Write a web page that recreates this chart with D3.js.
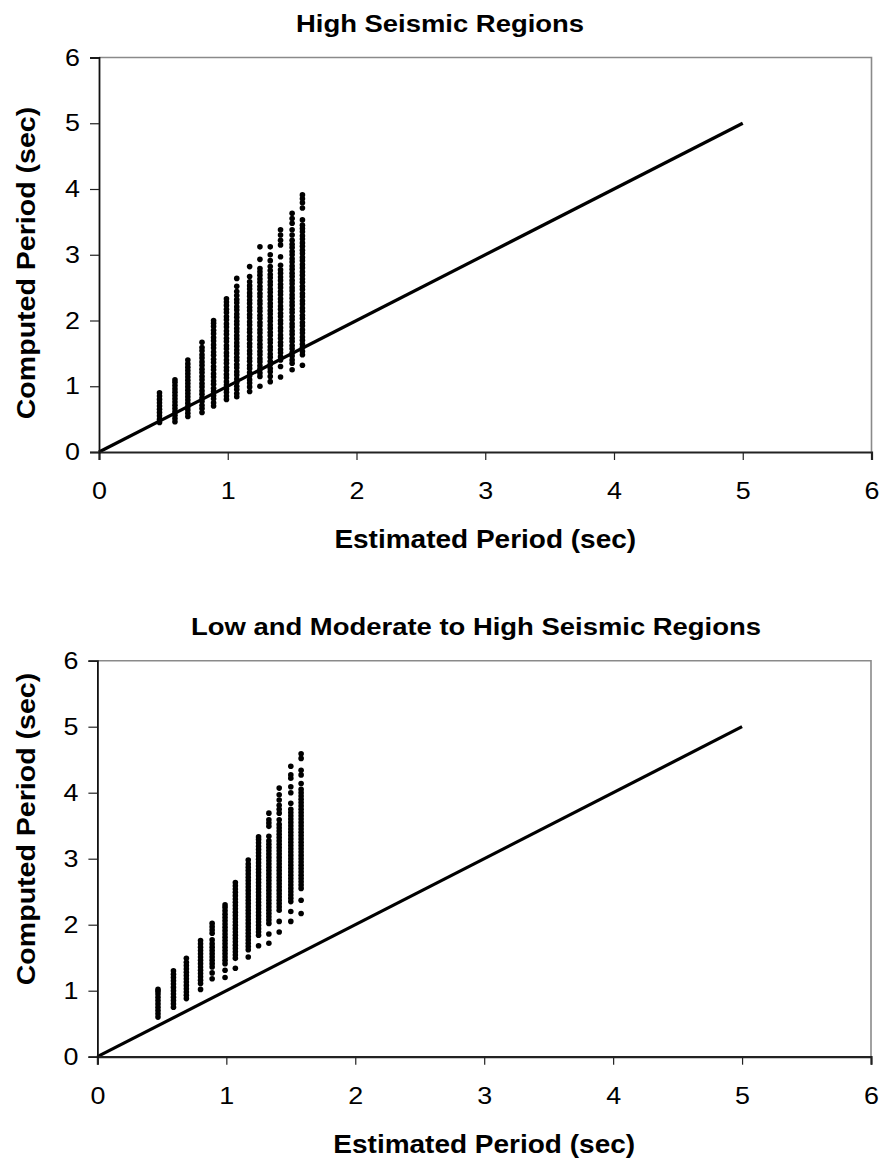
<!DOCTYPE html>
<html>
<head>
<meta charset="utf-8">
<script src="https://cdn.jsdelivr.net/npm/d3@7"></script>
<style>
  html, body { margin: 0; padding: 0; background: #fff; }
  svg { display: block; }
  text { font-family: "Liberation Sans", Arial, sans-serif; fill: #000; }
</style>
</head>
<body>
<svg id="chart" width="883" height="1162"></svg>
<script>
// Estimated period of each building group (x position of each column of points)
const estimatedPeriods = [0.47, 0.59, 0.69, 0.80, 0.89, 0.99, 1.07, 1.17, 1.25, 1.33, 1.41, 1.50, 1.58];

// Computed periods per group, high seismic regions
const computedHigh = [
  [0.45,0.50,0.55,0.60,0.65,0.70,0.75,0.80,0.85,0.90],
  [0.46,0.51,0.56,0.61,0.66,0.71,0.76,0.81,0.86,0.91,0.96,1.01,1.06,1.10],
  [0.54,0.59,0.64,0.69,0.74,0.79,0.84,0.89,0.94,0.99,1.04,1.09,1.14,1.19,1.24,1.29,1.34,1.40],
  [0.60,0.66,0.71,0.77,0.82,0.88,0.93,0.99,1.04,1.10,1.15,1.21,1.26,1.32,1.37,1.43,1.48,1.54,1.59,1.67],
  [0.70,0.75,0.81,0.86,0.92,0.97,1.03,1.08,1.14,1.19,1.25,1.30,1.36,1.41,1.47,1.52,1.58,1.63,1.69,1.74,1.80,1.85,1.91,1.96,2.00],
  [0.80,0.85,0.91,0.96,1.02,1.07,1.13,1.18,1.24,1.29,1.35,1.40,1.46,1.51,1.57,1.62,1.68,1.73,1.79,1.84,1.90,1.95,2.01,2.06,2.12,2.17,2.23,2.28,2.33],
  [0.84,0.89,0.95,1.00,1.06,1.11,1.17,1.22,1.28,1.33,1.39,1.44,1.50,1.55,1.61,1.66,1.72,1.77,1.83,1.88,1.94,1.99,2.05,2.10,2.16,2.21,2.27,2.32,2.38,2.44,2.52,2.64],
  [0.92,0.99,1.05,1.10,1.16,1.21,1.27,1.32,1.38,1.43,1.49,1.54,1.60,1.65,1.71,1.76,1.82,1.87,1.93,1.98,2.04,2.09,2.15,2.20,2.26,2.31,2.37,2.42,2.48,2.53,2.59,2.67,2.82],
  [1.00,1.15,1.20,1.26,1.31,1.37,1.42,1.48,1.53,1.59,1.64,1.70,1.75,1.81,1.86,1.92,1.97,2.03,2.08,2.14,2.19,2.25,2.30,2.36,2.41,2.47,2.52,2.58,2.63,2.69,2.74,2.79,2.93,3.12],
  [1.07,1.15,1.22,1.27,1.33,1.38,1.44,1.49,1.55,1.60,1.66,1.71,1.77,1.82,1.88,1.93,1.99,2.04,2.10,2.15,2.21,2.26,2.32,2.37,2.43,2.48,2.54,2.59,2.65,2.70,2.76,2.82,2.91,3.00,3.12],
  [1.14,1.30,1.40,1.45,1.51,1.56,1.62,1.67,1.73,1.78,1.84,1.89,1.95,2.00,2.06,2.11,2.17,2.22,2.28,2.33,2.39,2.44,2.50,2.55,2.61,2.66,2.72,2.77,2.84,2.97,3.15,3.22,3.30,3.38],
  [1.25,1.35,1.40,1.46,1.51,1.57,1.62,1.68,1.73,1.79,1.84,1.90,1.95,2.01,2.06,2.12,2.17,2.23,2.28,2.34,2.39,2.45,2.50,2.56,2.61,2.67,2.72,2.78,2.83,2.89,2.94,3.00,3.05,3.11,3.16,3.22,3.30,3.38,3.48,3.55,3.63],
  [1.32,1.48,1.53,1.59,1.64,1.70,1.75,1.81,1.86,1.92,1.97,2.03,2.08,2.14,2.19,2.25,2.30,2.36,2.41,2.47,2.52,2.58,2.63,2.69,2.74,2.80,2.85,2.91,2.96,3.02,3.07,3.13,3.18,3.24,3.29,3.35,3.40,3.45,3.53,3.71,3.79,3.85,3.91]
];

// Computed periods per group, low and moderate to high seismic regions
const computedAll = [
  [0.60,0.65,0.70,0.75,0.80,0.85,0.90,0.95,0.99,1.02],
  [0.75,0.80,0.85,0.90,0.95,1.00,1.05,1.10,1.15,1.20,1.25,1.30],
  [0.88,0.93,0.98,1.03,1.08,1.13,1.18,1.23,1.28,1.33,1.38,1.43,1.49],
  [1.02,1.11,1.16,1.21,1.26,1.31,1.36,1.41,1.46,1.51,1.56,1.61,1.66,1.71,1.76],
  [1.18,1.27,1.36,1.41,1.46,1.51,1.56,1.61,1.66,1.71,1.77,1.87,1.92,1.97,2.02],
  [1.20,1.31,1.41,1.46,1.51,1.56,1.61,1.66,1.71,1.76,1.81,1.86,1.91,1.96,2.01,2.06,2.11,2.16,2.21,2.26,2.30],
  [1.34,1.49,1.54,1.59,1.64,1.69,1.74,1.79,1.84,1.89,1.94,1.99,2.04,2.09,2.14,2.19,2.24,2.29,2.34,2.39,2.44,2.49,2.54,2.59,2.64],
  [1.51,1.62,1.67,1.72,1.77,1.82,1.87,1.92,1.97,2.02,2.07,2.12,2.17,2.22,2.27,2.32,2.37,2.42,2.47,2.52,2.57,2.62,2.67,2.72,2.77,2.82,2.87,2.92,2.98],
  [1.68,1.84,1.89,1.94,1.99,2.04,2.09,2.14,2.19,2.24,2.29,2.34,2.39,2.44,2.49,2.54,2.59,2.64,2.69,2.74,2.79,2.84,2.89,2.94,2.99,3.04,3.09,3.14,3.19,3.24,3.29,3.33],
  [1.72,1.86,2.02,2.07,2.12,2.17,2.22,2.27,2.32,2.37,2.42,2.47,2.52,2.57,2.62,2.67,2.72,2.77,2.82,2.87,2.92,2.97,3.02,3.07,3.12,3.17,3.22,3.27,3.34,3.49,3.54,3.59,3.69],
  [1.89,2.05,2.22,2.27,2.32,2.37,2.42,2.47,2.52,2.57,2.62,2.67,2.72,2.77,2.82,2.87,2.92,2.97,3.02,3.07,3.12,3.17,3.22,3.27,3.32,3.37,3.42,3.47,3.52,3.59,3.69,3.75,3.81,3.89,3.97,4.07],
  [2.05,2.20,2.35,2.40,2.45,2.50,2.55,2.60,2.65,2.70,2.75,2.80,2.85,2.90,2.95,3.00,3.05,3.10,3.15,3.20,3.25,3.30,3.35,3.40,3.45,3.50,3.55,3.60,3.65,3.70,3.75,3.84,4.00,4.09,4.22,4.27,4.40],
  [2.17,2.37,2.55,2.60,2.65,2.70,2.75,2.80,2.85,2.90,2.95,3.00,3.05,3.10,3.15,3.20,3.25,3.30,3.35,3.40,3.45,3.50,3.55,3.60,3.65,3.70,3.75,3.80,3.85,3.90,3.95,4.00,4.05,4.14,4.27,4.34,4.52,4.59]
];

// Reference line T_computed = T_estimated
const equalityLine = [0, 5];

// Axis tick values
const xTicks = [0, 1, 2, 3, 4, 5, 6];
const yTicks = [0, 1, 2, 3, 4, 5, 6];

const titles = ["High Seismic Regions", "Low and Moderate to High Seismic Regions"];
const xTitle = "Estimated Period (sec)";
const yTitle = "Computed Period (sec)";

const svg = d3.select("#chart");
const WIDEN = 1.12; // glyphs are drawn slightly wide along the text direction

function drawPanel(opts, groups) {
  const { left, right, top, bottom, title, titleX, titleY, yTitleY } = opts;
  const x = d3.scaleLinear().domain([0, 6]).range([left, right]);
  const y = d3.scaleLinear().domain([0, 6]).range([bottom, top]);
  const g = svg.append("g");

  // Plot frame: top and right edges
  g.append("path")
    .attr("d", `M${left},${top}H${right}V${bottom}`)
    .attr("fill", "none")
    .attr("stroke", "#8a8a8a")
    .attr("stroke-width", 1.6);

  // Points
  const pts = [];
  groups.forEach((vals, i) => vals.forEach(v => pts.push([estimatedPeriods[i], v])));
  g.append("g")
    .selectAll("circle")
    .data(pts)
    .join("circle")
    .attr("cx", d => x(d[0]))
    .attr("cy", d => y(d[1]))
    .attr("r", 2.8)
    .attr("fill", "#000");

  // Equality line
  g.append("path")
    .datum(equalityLine)
    .attr("d", d3.line().x(d => x(d)).y(d => y(d)))
    .attr("stroke", "#000")
    .attr("stroke-width", 3.2)
    .attr("fill", "none");

  // Axes
  const xAxis = g.append("g")
    .attr("transform", `translate(0,${bottom})`)
    .call(d3.axisBottom(x).tickValues(xTicks).tickFormat(d3.format("d")).tickSize(8).tickPadding(22));
  xAxis.select(".domain").attr("stroke", "#222").attr("stroke-width", 2.2);
  xAxis.selectAll(".tick line").attr("stroke", "#222").attr("stroke-width", 1.2);
  xAxis.selectAll(".tick text")
    .attr("font-size", 24)
    .attr("font-family", "Liberation Sans, Arial, sans-serif")
    .attr("fill", "#000")
    .attr("transform", `scale(${WIDEN},1)`);

  const yAxis = g.append("g")
    .attr("transform", `translate(${left},0)`)
    .call(d3.axisLeft(y).tickValues(yTicks).tickFormat(d3.format("d")).tickSize(9).tickPadding(8));
  yAxis.select(".domain").attr("stroke", "#111").attr("stroke-width", 1.8);
  yAxis.selectAll(".tick line").attr("stroke", "#222").attr("stroke-width", 1.2);
  yAxis.selectAll(".tick text")
    .attr("font-size", 24)
    .attr("font-family", "Liberation Sans, Arial, sans-serif")
    .attr("fill", "#000")
    .attr("transform", `scale(${WIDEN},1)`);

  // Titles
  g.append("text")
    .attr("transform", `translate(${titleX},${titleY}) scale(${WIDEN},1)`)
    .attr("text-anchor", "middle")
    .attr("font-size", 24.5)
    .attr("font-weight", "bold")
    .text(title);

  g.append("text")
    .attr("transform", `translate(${(left + right) / 2},${bottom + 96}) scale(${WIDEN},1)`)
    .attr("text-anchor", "middle")
    .attr("font-size", 25)
    .attr("font-weight", "bold")
    .text(xTitle);

  g.append("text")
    .attr("transform", `translate(35,${yTitleY}) rotate(-90) scale(${WIDEN},1)`)
    .attr("text-anchor", "middle")
    .attr("font-size", 25.5)
    .attr("font-weight", "bold")
    .text(yTitle);
}

drawPanel({ left: 99, right: 871.5, top: 57.5, bottom: 452, title: titles[0], titleX: 440, titleY: 32, yTitleY: 263 }, computedHigh);
drawPanel({ left: 97.4, right: 871, top: 660.7, bottom: 1056.7, title: titles[1], titleX: 476, titleY: 635, yTitleY: 829 }, computedAll);
</script>
</body>
</html>
